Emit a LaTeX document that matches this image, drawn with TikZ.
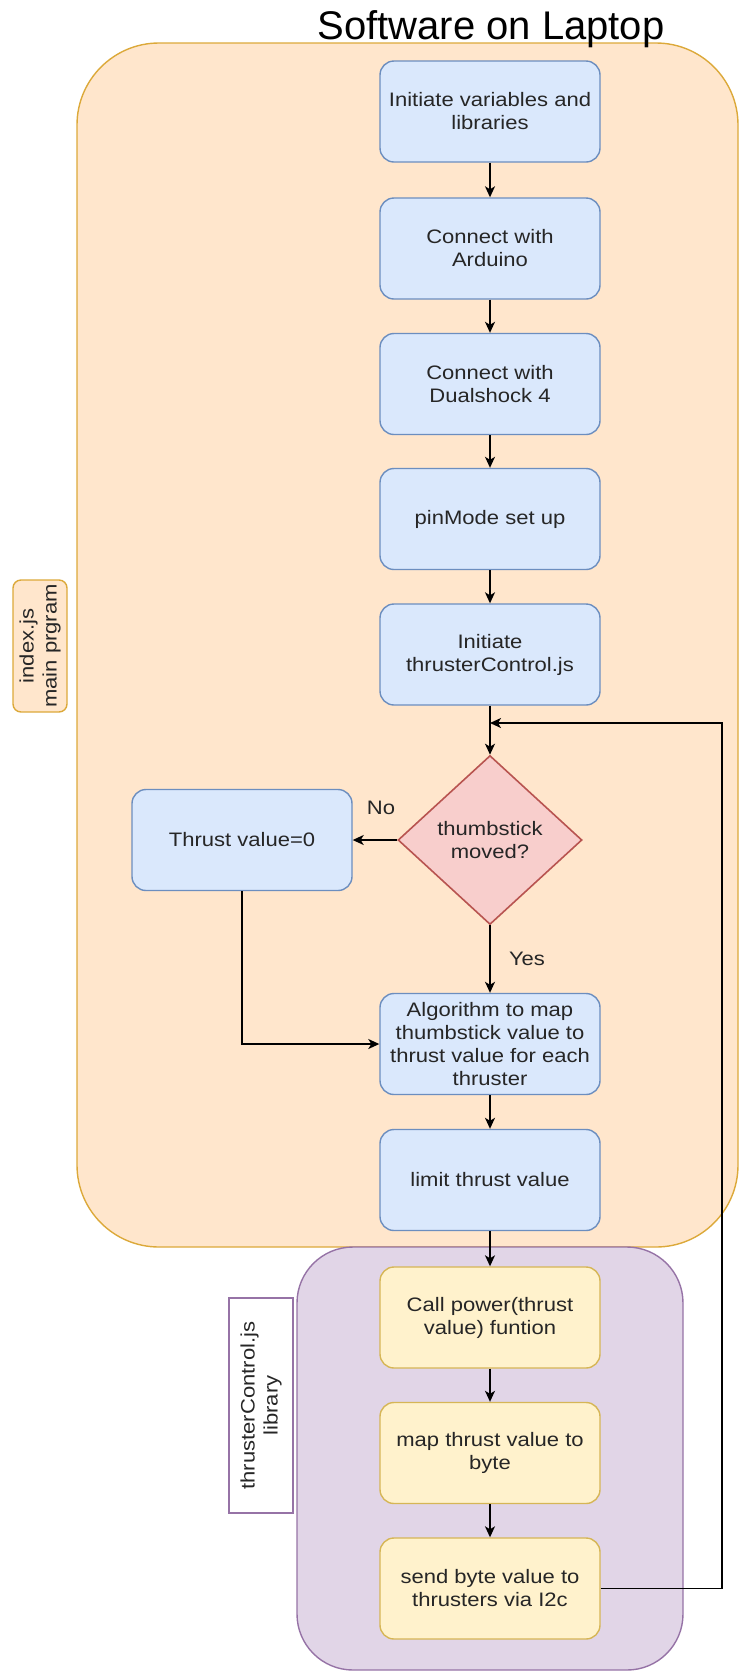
\documentclass[tikz,border=0pt]{standalone}
\usepackage{fontspec}
\setmainfont{Liberation Sans}
\newfontfamily\boxfont[FakeStretch=1.13]{Liberation Sans}
\usetikzlibrary{shapes.geometric,arrows.meta}
\definecolor{orfill}{HTML}{FFE6CC}
\definecolor{orline}{HTML}{DCA93A}
\definecolor{pufill}{HTML}{E1D5E7}
\definecolor{puline}{HTML}{9673A6}
\definecolor{blfill}{HTML}{DAE8FC}
\definecolor{blline}{HTML}{6C8EBF}
\definecolor{yefill}{HTML}{FFF2CC}
\definecolor{yeline}{HTML}{D6B656}
\definecolor{refill}{HTML}{F8CECC}
\definecolor{reline}{HTML}{B85450}
\definecolor{txt}{HTML}{262626}
\tikzset{
  txtfont/.style={font=\boxfont\fontsize{19.5}{23}\selectfont, text=txt},
  bluebox/.style={txtfont, draw=blline, fill=blfill, line width=1.4pt, rounded corners=14pt,
    minimum width=220pt, minimum height=101pt, align=center, inner sep=2pt},
  yellowbox/.style={bluebox, draw=yeline, fill=yefill},
  decision/.style={txtfont, diamond, draw=reline, fill=refill, line width=1.6pt,
    minimum width=184pt, minimum height=169pt, aspect=1.09, inner sep=0pt, align=center},
  arr/.style={line width=1.6pt, draw=black, -{Stealth[length=11pt,width=10pt,inset=3pt]}},
  lbl/.style={txtfont, inner sep=0pt},
}
\begin{document}
\begin{tikzpicture}[x=1pt,y=-1pt]
\useasboundingbox (0,0) rectangle (739,1674);
% containers
\draw[draw=orline, fill=orfill, line width=1.4pt, rounded corners=82pt] (77,43) rectangle (738,1247);
\draw[draw=puline, fill=pufill, line width=1.4pt, rounded corners=56pt] (297,1247) rectangle (683,1670);
\node[font=\fontsize{40}{46}\selectfont, text=black, inner sep=0pt] (title) at (491,29) {Software on Laptop};
% container labels
\node[txtfont, rotate=90, draw=orline, fill=orfill, line width=1.4pt, rounded corners=8pt,
  minimum width=132pt, minimum height=54pt, align=center, inner sep=1pt] (idx) at (40,646)
  {index.js\\main prgram};
\node[txtfont, rotate=90, draw=puline, fill=white, line width=1.4pt,
  minimum width=215pt, minimum height=64pt, align=center, inner sep=1pt] (tcl) at (261,1405.5)
  {thrusterControl.js\\library};
% steps
\node[bluebox] (n1) at (490,111.5) {Initiate variables and\\libraries};
\node[bluebox] (n2) at (490,248.5) {Connect with\\Arduino};
\node[bluebox] (n3) at (490,384) {Connect with\\Dualshock 4};
\node[bluebox] (n4) at (490,519) {pinMode set up};
\node[bluebox] (n5) at (490,654.5) {Initiate\\thrusterControl.js};
\node[decision] (dec) at (490,840) {thumbstick\\moved?};
\node[bluebox] (thr) at (242,840) {Thrust value=0};
\node[bluebox] (alg) at (490,1044) {Algorithm to map\\thumbstick value to\\thrust value for each\\thruster};
\node[bluebox] (lim) at (490,1180) {limit thrust value};
\node[yellowbox] (call) at (490,1317.5) {Call power(thrust\\value) funtion};
\node[yellowbox] (map) at (490,1453) {map thrust value to\\byte};
\node[yellowbox] (send) at (490,1588.5) {send byte value to\\thrusters via I2c};
% connectors
\draw[arr] (n1) -- (n2);
\draw[arr] (n2) -- (n3);
\draw[arr] (n3) -- (n4);
\draw[arr] (n4) -- (n5);
\draw[arr] (n5) -- (dec);
\draw[arr] (dec) -- (thr);
\draw[arr] (dec) -- (alg);
\draw[arr] (thr.south) |- (alg.west);
\draw[arr] (alg) -- (lim);
\draw[arr] (lim) -- (call);
\draw[arr] (call) -- (map);
\draw[arr] (map) -- (send);
\coordinate (lcorner) at (722,723);
\coordinate (loopin) at (490,723);
\draw[arr] (send.east) -| (lcorner) -- (loopin);
% labels
\node[lbl] (no) at (381,808) {No};
\node[lbl] (yes) at (527,959) {Yes};
\end{tikzpicture}
\end{document}
